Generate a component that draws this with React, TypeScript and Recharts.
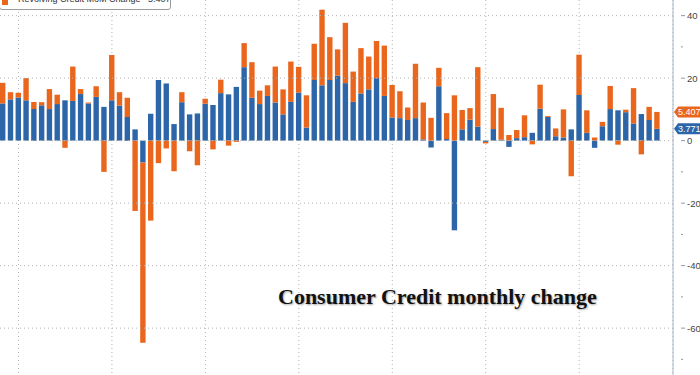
import React from "react";
import { BarChart, Bar, XAxis, YAxis, CartesianGrid, ReferenceLine } from "recharts";

const months = [
  "Oct18","Nov18","Dec18",
  "Jan19","Feb19","Mar19","Apr19","May19","Jun19","Jul19","Aug19","Sep19","Oct19","Nov19","Dec19",
  "Jan20","Feb20","Mar20","Apr20","May20","Jun20","Jul20","Aug20","Sep20","Oct20","Nov20","Dec20",
  "Jan21","Feb21","Mar21","Apr21","May21","Jun21","Jul21","Aug21","Sep21","Oct21","Nov21","Dec21",
  "Jan22","Feb22","Mar22","Apr22","May22","Jun22","Jul22","Aug22","Sep22","Oct22","Nov22","Dec22",
  "Jan23","Feb23","Mar23","Apr23","May23","Jun23","Jul23","Aug23","Sep23","Oct23","Nov23","Dec23",
  "Jan24","Feb24","Mar24","Apr24","May24","Jun24","Jul24","Aug24","Sep24","Oct24","Nov24","Dec24",
  "Jan25","Feb25","Mar25","Apr25","May25","Jun25","Jul25","Aug25","Sep25","Oct25",
];

const nonRevolving = [
  11.9, 13.2, 13.8, 12.9, 10.1, 11.3, 10.1, 11.7, 12.9, 12.7, 14.9, 11.9, 14.0, 10.8, 12.9,
  11.2, 7.6, 3.6, -7.0, 8.6, 19.4, 18.3, 5.3, 12.3, 8.4, 8.7, 11.8,
  11.4, 15.2, 14.8, 17.2, 23.5, 13.7, 11.7, 14.3, 12.2, 8.4, 12.4, 15.4,
  4.2, 19.4, 17.7, 19.4, 20.8, 18.4, 12.4, 15.1, 16.4, 20.0, 14.3, 7.4,
  7.2, 6.6, 7.2, 0.4, -2.2, 17.4, 0.5, -28.7, 3.6, 6.7, 4.5, -0.4,
  3.7, 0.3, -2.0, 0.8, 1.1, 2.5, 10.2, 7.6, 1.4, 1.0, 3.6, 14.6,
  2.5, -2.3, 4.6, 10.1, 9.7, 9.1, 5.5, 8.5, 6.6, 3.771,
];

const revolving = [
  6.6, 2.3, 1.5, 7.1, 2.3, 1.0, 6.4, 3.0, -2.3, 11.0, 1.6, 0.3, 3.4, -10.0, 14.5,
  4.3, 6.1, -22.5, -57.7, -25.6, -7.2, -2.5, -9.8, 3.2, -3.4, -7.9, 1.6,
  -2.8, 4.3, -1.6, -0.4, 7.7, 11.4, 4.3, 3.4, 11.5, 8.0, 12.9, 8.2,
  10.3, 11.6, 24.2, 13.7, 8.4, 19.3, 9.7, 14.5, 10.5, 11.9, 16.1, 10.4,
  8.6, 4.0, 17.4, 11.8, 7.3, 5.9, 8.3, 14.5, 6.2, 3.7, 19.0, -0.5,
  11.2, 10.2, 1.8, 2.6, 7.0, -1.2, 7.7, 0.3, 2.5, 9.0, -11.4, 12.9,
  7.2, 1.0, 1.4, 7.4, -1.3, 0.8, 11.3, -4.4, 4.2, 5.407,
];

const gridMonths = ["Dec18", "Dec19", "Dec20", "Dec21", "Dec22", "Dec23", "Dec24"];
const majorTicks = [40, 20, 0, -20, -40, -60];
const allTicks = [40, 30, 20, 10, 0, -10, -20, -30, -40, -50, -60, -70];

const lastNonRev = 3.771;
const lastRev = 5.407;

const BLUE = "#2d66a8";
const ORANGE = "#ea661d";

const data = months.map((m, i) => ({ month: m, nonrev: nonRevolving[i], rev: revolving[i] }));

const YTick = (props: any) => {
  const { x, y, payload } = props;
  const major = majorTicks.includes(payload.value);
  return (
    <g>
      <line x1={x} x2={x + (major ? 4 : 2)} y1={y} y2={y} stroke="#8a9bb0" strokeWidth={1} />
      {major && (
        <text x={x + 6} y={y + 3.5} fontSize={9.5} fill="#444" fontFamily="Liberation Sans, Arial, sans-serif">
          {payload.value}
        </text>
      )}
    </g>
  );
};

const Tag = (props: any) => {
  const { viewBox, color, text } = props;
  if (!viewBox) return null;
  const x0 = viewBox.x + viewBox.width;
  const y = viewBox.y;
  const h = 5.5;
  const pts = `${x0 + 1},${y} ${x0 + 5},${y - h} ${x0 + 40},${y - h} ${x0 + 40},${y + h} ${x0 + 5},${y + h}`;
  return (
    <g>
      <polygon points={pts} fill={color} />
      <text x={x0 + 5} y={y + 3.2} fontSize={9} fill="#fff" fontFamily="Liberation Sans, Arial, sans-serif">
        {text}
      </text>
    </g>
  );
};

export default function App() {
  return (
    <div style={{ position: "absolute", left: 0, top: 0, width: 700, height: 375, overflow: "hidden", background: "#fff" }}>
      <BarChart
        width={700}
        height={375}
        data={data}
        stackOffset="sign"
        margin={{ top: 0, right: 0, bottom: 0, left: -1 }}
      >
        <CartesianGrid horizontal={false} vertical={true} stroke="#b5b5b5" strokeDasharray="1 3" />
        <XAxis dataKey="month" hide ticks={gridMonths} interval={0} padding={{ left: 0, right: 12 }} />
        <YAxis
          orientation="right"
          domain={[-75, 45]}
          ticks={allTicks}
          interval={0}
          width={27}
          axisLine={{ stroke: "#a8b6c6" }}
          tickLine={false}
          tick={<YTick />}
          allowDataOverflow
        />
        {majorTicks.map((v) => (
          <ReferenceLine key={v} y={v} stroke="#b5b5b5" strokeDasharray="1 3" />
        ))}
        <Bar dataKey="nonrev" stackId="a" fill={BLUE} barSize={5.4} isAnimationActive={false} />
        <Bar dataKey="rev" stackId="a" fill={ORANGE} barSize={5.4} isAnimationActive={false} />
        <ReferenceLine y={lastNonRev + lastRev} stroke="none" label={<Tag color={ORANGE} text={lastRev.toFixed(3)} />} />
        <ReferenceLine y={lastNonRev} stroke="none" label={<Tag color={BLUE} text={lastNonRev.toFixed(3)} />} />
      </BarChart>

      <div
        style={{
          position: "absolute",
          left: -1,
          top: -21,
          width: 170,
          height: 29,
          border: "1px solid #9a9a9a",
          borderRadius: 3,
          background: "#fff",
          fontFamily: "Liberation Sans, Arial, sans-serif",
          fontSize: 9,
          color: "#333",
        }}
      >
        <div style={{ position: "absolute", left: 2, top: 2, height: 12, width: 166, whiteSpace: "nowrap" }}>
          <span style={{ position: "absolute", left: 0, top: 3, width: 6, height: 7, background: BLUE }} />
          <span style={{ position: "absolute", left: 16, top: 0 }}>Nonrevolving Credit MoM</span>
          <span style={{ position: "absolute", left: 146, top: 0 }}>{lastNonRev.toFixed(3)}</span>
        </div>
        <div style={{ position: "absolute", left: 2, top: 14, height: 12, width: 166, whiteSpace: "nowrap" }}>
          <span style={{ position: "absolute", left: 0, top: 4, width: 6, height: 7, background: ORANGE }} />
          <span style={{ position: "absolute", left: 16, top: 0 }}>Revolving Credit MoM Change</span>
          <span style={{ position: "absolute", left: 146, top: 0 }}>{lastRev.toFixed(3)}</span>
        </div>
      </div>

      <div
        style={{
          position: "absolute",
          left: 278,
          top: 284,
          fontFamily: "Liberation Serif, Times New Roman, serif",
          fontWeight: "bold",
          fontSize: 22,
          color: "#111",
          whiteSpace: "nowrap",
          textShadow: "1px 1px 2px rgba(0,0,0,0.35)",
        }}
      >
        Consumer Credit monthly change
      </div>
    </div>
  );
}
